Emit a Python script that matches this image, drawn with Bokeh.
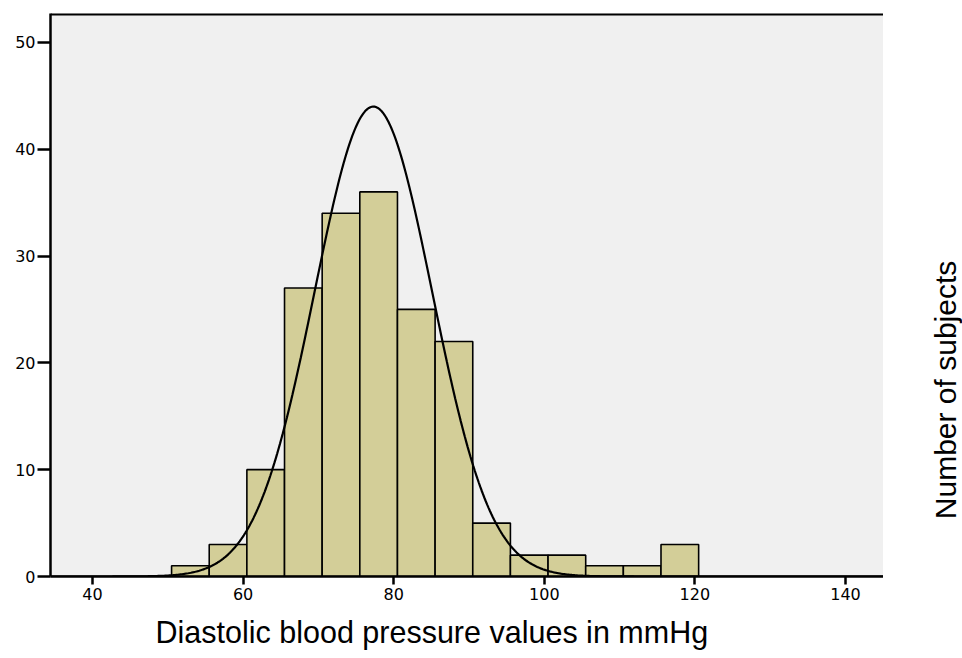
import numpy as np
from bokeh.plotting import figure
from bokeh.models import FixedTicker, Span, Range1d, Title
from bokeh.layouts import row
from bokeh.core.properties import value
from bokeh.embed import file_html
from bokeh.resources import INLINE

# Histogram data (bin edges of width 5, starting at 50.5)
bin_left = [50.5, 55.5, 60.5, 65.5, 70.5, 75.5, 80.5, 85.5, 90.5, 95.5, 100.5, 105.5, 110.5, 115.5]
bin_right = [55.5, 60.5, 65.5, 70.5, 75.5, 80.5, 85.5, 90.5, 95.5, 100.5, 105.5, 110.5, 115.5, 120.5]
counts = [1, 3, 10, 27, 34, 36, 25, 22, 5, 2, 2, 1, 1, 3]

# Fitted normal curve parameters
curve_mean = 77.3
curve_sd = 7.8
bin_width = 5.0

x_ticks = [40, 60, 80, 100, 120, 140]
y_ticks = [0, 10, 20, 30, 40, 50]
x_title = "Diastolic blood pressure values in mmHg"
y_title = "Number of subjects"

X0, X1 = 34.42, 145.05
Y0, Y1 = 0, 52.7

p = figure(width=883, height=658, output_backend="svg", toolbar_location=None,
           x_range=Range1d(X0, X1), y_range=Range1d(Y0, Y1),
           min_border_left=50, min_border_right=0, min_border_top=13, min_border_bottom=82)
p.background_fill_color = "#f0f0f0"
p.border_fill_color = "white"
p.outline_line_color = None
p.grid.visible = False

p.quad(left=bin_left, right=bin_right, bottom=0, top=counts,
       fill_color="#d3ce98", line_color="black", line_width=1.6)

n_total = sum(counts)
xs = np.linspace(X0, X1, 600)
ys = n_total * bin_width / (curve_sd * np.sqrt(2 * np.pi)) * np.exp(-0.5 * ((xs - curve_mean) / curve_sd) ** 2)
p.line(xs, ys, line_color="black", line_width=2.2)

p.add_layout(Span(location=Y1, dimension="width", line_color="black", line_width=4))

font = "DejaVu Sans"
xa = p.xaxis[0]
xa.ticker = FixedTicker(ticks=x_ticks)
xa.major_label_text_font = font
xa.major_label_text_font_size = "16px"
xa.major_label_standoff = 3
xa.major_tick_out = 8
xa.major_tick_in = 0
xa.minor_tick_line_color = None
xa.axis_line_width = 2.5
xa.major_tick_line_width = 2.5
xa.axis_line_color = "black"
xa.major_tick_line_color = "black"
xa.major_label_text_color = "black"

ya = p.yaxis[0]
ya.ticker = FixedTicker(ticks=y_ticks)
ya.major_label_text_font = font
ya.major_label_text_font_size = "16px"
ya.major_label_standoff = 2
ya.major_tick_out = 13
ya.major_tick_in = 0
ya.minor_tick_line_color = None
ya.axis_line_width = 2.5
ya.major_tick_line_width = 2.5
ya.axis_line_color = "black"
ya.major_tick_line_color = "black"
ya.major_label_text_color = "black"

p.add_layout(Title(text=x_title, align="left", offset=105, standoff=20,
                   text_font="Liberation Sans", text_font_size="30.5px",
                   text_font_style="normal", text_color="black"), "below")

# narrow side panel carrying the vertical axis title
p2 = figure(width=79, height=658, output_backend="svg", toolbar_location=None,
            x_range=Range1d(0, 79), y_range=Range1d(0, 658),
            min_border_left=0, min_border_right=0, min_border_top=0, min_border_bottom=0)
p2.axis.visible = False
p2.grid.visible = False
p2.outline_line_color = None
p2.background_fill_color = "white"
p2.text(x=[62], y=[218], text=[y_title], angle=np.pi / 2, text_align="center",
        text_baseline="middle", text_font=value("Liberation Sans"), text_font_size="30px",
        text_color="black")

open("out.html", "w").write(file_html(row(p, p2), INLINE))
